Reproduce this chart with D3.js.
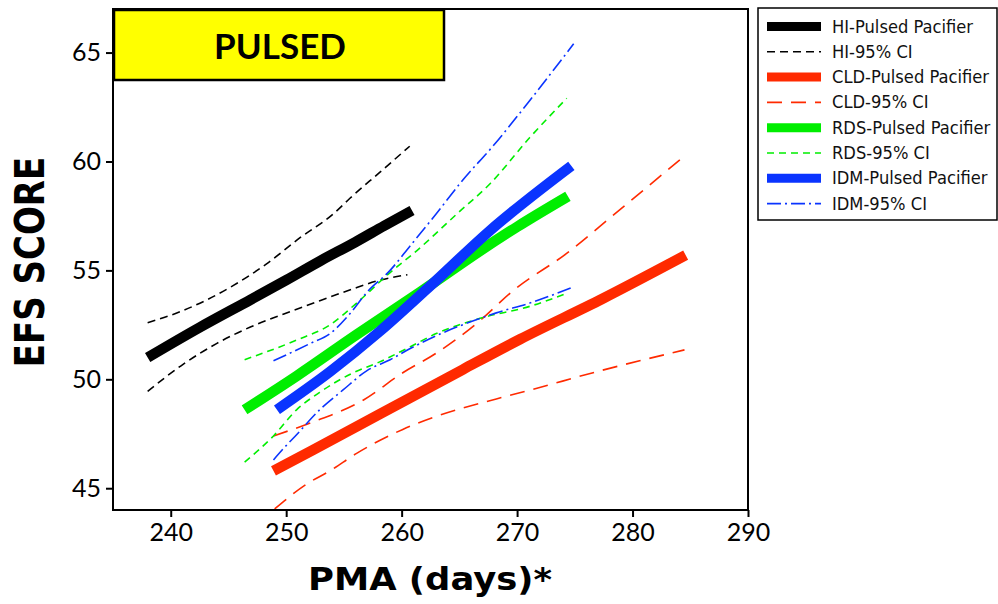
<!DOCTYPE html>
<html lang="en">
<head>
    <meta charset="UTF-8">
    <title>EFS score vs PMA - Pulsed</title>
    <style>
        body { margin: 0; background: #fff; }
        svg { display: block; }
        .tick text { font-family: Lato, "Open Sans", sans-serif; }
    </style>
</head>
<body>
    <div id="chart"></div>
    <script src="https://d3js.org/d3.v7.min.js"></script>
    <script>
        // series: [PMA days, EFS score]
        const hiFit = [[238, 51.0], [242.5, 52.38], [246.9, 53.65], [250, 54.55], [253, 55.45], [256, 56.3], [258.5, 57.05], [260.9, 57.75]];
        const hiUpper = [[238, 52.6], [240.8, 53.1], [245.4, 54.3], [248.3, 55.3], [251.2, 56.5], [254.1, 57.6], [255.5, 58.3], [258.1, 59.5], [260.7, 60.7]];
        const hiLower = [[238, 49.45], [241.1, 50.7], [244.0, 51.65], [246.9, 52.4], [249.8, 53.0], [252.6, 53.55], [255.5, 54.1], [258.1, 54.55], [260.5, 54.8]];

        const cldFit = [[248.9, 45.8], [252.3, 46.75], [258.1, 48.4], [265.3, 50.45], [270.3, 51.85], [277.4, 53.7], [284.6, 55.7]];
        const cldUpper = [[248.9, 47.4], [252.1, 48.0], [256.7, 49.05], [260.1, 50.3], [263.0, 51.2], [266.8, 52.7], [269.5, 54.0], [274.6, 55.9], [277.8, 57.3], [284.6, 60.3]];
        const cldLower = [[249.0, 44.05], [251.8, 45.2], [253.8, 45.8], [256.1, 46.6], [260.1, 47.7], [263.0, 48.3], [268.2, 49.1], [271.1, 49.5], [276.9, 50.35], [284.5, 51.35]];

        const rdsFit = [[246.4, 48.6], [250.9, 50.15], [256.1, 52.05], [261.6, 54.0], [266.8, 55.9], [270.0, 57.0], [274.4, 58.4]];
        const rdsUpper = [[246.4, 50.9], [250.9, 51.8], [253.8, 52.5], [256.1, 53.5], [259.0, 54.9], [261.3, 55.9], [264.8, 57.6], [267.7, 59.0], [271.1, 61.1], [274.3, 62.9]];
        const rdsLower = [[246.4, 46.2], [248.9, 47.4], [250.9, 48.6], [252.9, 49.4], [255.8, 50.3], [258.1, 50.8], [260.4, 51.4], [263.0, 52.1], [266.8, 52.8], [271.1, 53.35], [274.3, 53.95]];

        const idmFit = [[249.2, 48.6], [253.8, 50.35], [258.1, 52.2], [262.5, 54.3], [267.7, 56.85], [274.7, 59.8]];
        const idmUpper = [[248.9, 50.85], [252.1, 51.65], [253.8, 52.1], [255.5, 53.0], [257.0, 54.0], [259.0, 55.0], [260.7, 56.1], [263.0, 57.6], [265.3, 59.15], [267.9, 60.7], [271.1, 62.8], [274.9, 65.4]];
        const idmLower = [[248.9, 46.3], [249.9, 46.9], [250.8, 47.4], [252.9, 48.6], [254.9, 49.5], [257.0, 50.4], [259.0, 50.9], [260.7, 51.4], [263.0, 52.0], [266.8, 52.8], [268.2, 53.05], [271.1, 53.5], [274.9, 54.25]];

        const xTicks = [240, 250, 260, 270, 280, 290];
        const yTicks = [45, 50, 55, 60, 65];

        const legendLabels = ["HI-Pulsed Pacifier", "HI-95% CI", "CLD-Pulsed Pacifier", "CLD-95% CI",
            "RDS-Pulsed Pacifier", "RDS-95% CI", "IDM-Pulsed Pacifier", "IDM-95% CI"];

        const colors = { hi: "#000000", cld: "#ff2a00", rds: "#00ee00", idm: "#0a34ff" };
        const dashes = { hi: "8,5", cld: "15,9", rds: "7,5", idm: "14,4,2,4" };

        const width = 998, height = 604;
        const svg = d3.select("#chart").append("svg")
            .attr("width", width)
            .attr("height", height);

        const x = d3.scaleLinear().domain([235, 290]).range([113, 748]);
        const y = d3.scaleLinear().domain([44, 67]).range([510, 9]);

        const line = d3.line().curve(d3.curveMonotoneX).x(d => x(d[0])).y(d => y(d[1]));

        // axes
        svg.append("g")
            .attr("transform", "translate(0,510)")
            .call(d3.axisBottom(x).tickValues(xTicks).tickSize(7).tickPadding(6).tickFormat(d3.format("d")))
            .call(g => g.select(".domain").remove())
            .call(g => g.selectAll(".tick line").attr("stroke-width", 2))
            .call(g => g.selectAll(".tick text").attr("font-size", 25).attr("fill", "#000"));

        svg.append("g")
            .attr("transform", "translate(113,0)")
            .call(d3.axisLeft(y).tickValues(yTicks).tickSize(7).tickPadding(5).tickFormat(d3.format("d")))
            .call(g => g.select(".domain").remove())
            .call(g => g.selectAll(".tick line").attr("stroke-width", 2))
            .call(g => g.selectAll(".tick text").attr("font-size", 25).attr("fill", "#000"));

        const plot = svg.append("g");

        const series = [
            { key: "hi", fit: hiFit, upper: hiUpper, lower: hiLower },
            { key: "cld", fit: cldFit, upper: cldUpper, lower: cldLower },
            { key: "rds", fit: rdsFit, upper: rdsUpper, lower: rdsLower },
            { key: "idm", fit: idmFit, upper: idmUpper, lower: idmLower }
        ];

        // CI lines first, thick fits on top
        series.forEach(s => {
            [s.upper, s.lower].forEach(band => {
                plot.append("path")
                    .attr("d", line(band))
                    .attr("fill", "none")
                    .attr("stroke", colors[s.key])
                    .attr("stroke-width", 1.6)
                    .attr("stroke-dasharray", dashes[s.key]);
            });
        });
        series.forEach(s => {
            plot.append("path")
                .attr("d", line(s.fit))
                .attr("fill", "none")
                .attr("stroke", colors[s.key])
                .attr("stroke-width", 10.5);
        });

        // frame
        svg.append("rect")
            .attr("x", 113).attr("y", 9)
            .attr("width", 635).attr("height", 501)
            .attr("fill", "none")
            .attr("stroke", "#000")
            .attr("stroke-width", 2);

        // title box
        svg.append("rect")
            .attr("x", 114).attr("y", 10)
            .attr("width", 330).attr("height", 70)
            .attr("fill", "#ffff00")
            .attr("stroke", "#000")
            .attr("stroke-width", 2.5);
        svg.append("text")
            .attr("x", 280).attr("y", 59)
            .attr("text-anchor", "middle")
            .attr("font-family", "Lato, sans-serif")
            .attr("font-weight", "bold")
            .attr("font-size", 35)
            .text("PULSED");

        // axis titles (source image is a bit stretched sideways)
        svg.append("text")
            .attr("transform", "translate(43.5,262) scale(1.2,1) rotate(-90)")
            .attr("text-anchor", "middle")
            .attr("font-family", "DejaVu Sans, sans-serif")
            .attr("font-weight", "bold")
            .attr("font-size", 34)
            .text("EFS SCORE");
        svg.append("text")
            .attr("x", 308).attr("y", 590)
            .attr("font-family", "DejaVu Sans, sans-serif")
            .attr("font-weight", "bold")
            .attr("font-size", 32)
            .attr("textLength", 244)
            .attr("lengthAdjust", "spacingAndGlyphs")
            .text("PMA (days)*");

        // legend
        const legend = svg.append("g");
        legend.append("rect")
            .attr("x", 758).attr("y", 8)
            .attr("width", 239).attr("height", 212)
            .attr("fill", "#fff")
            .attr("stroke", "#000")
            .attr("stroke-width", 1.5);

        legendLabels.forEach((label, i) => {
            const s = series[Math.floor(i / 2)];
            const ly = 26.5 + i * 25.3;
            const isFit = i % 2 === 0;
            legend.append("line")
                .attr("x1", 767).attr("x2", 821)
                .attr("y1", ly).attr("y2", ly)
                .attr("stroke", colors[s.key])
                .attr("stroke-width", isFit ? 9 : 1.6)
                .attr("stroke-dasharray", isFit ? null : dashes[s.key]);
            legend.append("text")
                .attr("transform", `translate(832,${ly + 6}) scale(0.96,1)`)
                .attr("font-family", "DejaVu Sans, sans-serif")
                .attr("font-size", 17)
                .attr("fill", "#111")
                .text(label);
        });
    </script>
</body>
</html>
